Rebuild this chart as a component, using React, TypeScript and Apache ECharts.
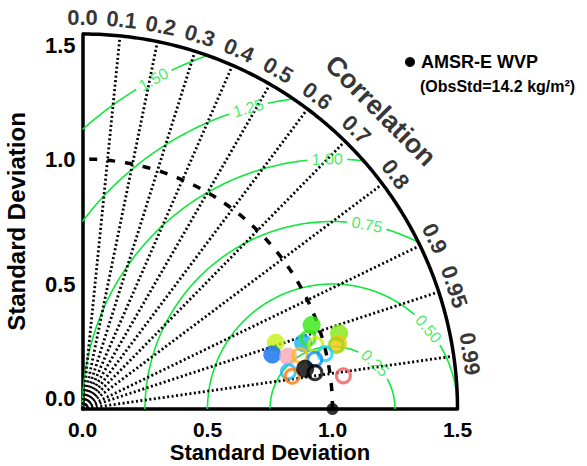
import React, { useEffect, useRef } from 'react';
import * as echarts from 'echarts';

// ---- data ----
const corrTicks = [0.0, 0.1, 0.2, 0.3, 0.4, 0.5, 0.6, 0.7, 0.8, 0.9, 0.95, 0.99];
const corrTickLabels = ['0.0', '0.1', '0.2', '0.3', '0.4', '0.5', '0.6', '0.7', '0.8', '0.9', '0.95', '0.99'];
const rmsLevels = [0.25, 0.5, 0.75, 1.0, 1.25, 1.5];
const rmsLabels = ['0.25', '0.50', '0.75', '1.00', '1.25', '1.50'];
const refStd = 1.0;
const obsName = 'AMSR-E WVP';
const obsStdText = '(ObsStd=14.2 kg/m²)';

const filledColors = ['#33e80f', '#80e80f', '#c8f014', '#0a6ef0', '#f8a8b4', '#12b4f8', '#ffc20e', '#000000'];
const filledStd = [0.976, 1.07, 0.817, 0.79, 0.849, 0.921, 1.055, 0.905];
const filledCorr = [0.939, 0.959, 0.946, 0.961, 0.969, 0.958, 0.969, 0.984];

const hollowColors = ['#33e80f', '#c8f014', '#88e020', '#ffb80e', '#1ed2f5', '#1090f0', '#20b8f8', '#ff7a0a', '#000000', '#f05a5a'];
const hollowStd = [0.946, 0.968, 1.046, 0.896, 0.995, 0.95, 0.837, 0.849, 0.941, 1.052];
const hollowCorr = [0.954, 0.964, 0.97, 0.971, 0.975, 0.978, 0.984, 0.988, 0.988, 0.992];

// ---- layout (not data) ----
const rmsLabelAngles = [47.2, 39.9, 79.4, 91.2, 105.6, 118.5];
const F = '"Liberation Sans", Arial, Helvetica, sans-serif';
const GREEN = '#10e83c';
const PX = 250; // pixels per unit

const toXY = (s: number, c: number) => [s * c, s * Math.sqrt(Math.max(0, 1 - c * c))];
const arcPts = (cx: number, cy: number, r: number, a0: number, a1: number) => {
  const n = Math.max(8, Math.ceil(Math.abs(a1 - a0) * 2));
  const pts: number[][] = [];
  for (let i = 0; i <= n; i++) {
    const a = ((a0 + ((a1 - a0) * i) / n) * Math.PI) / 180;
    pts.push([cx + r * Math.cos(a), cy + r * Math.sin(a)]);
  }
  return pts;
};

export default function App() {
  const ref = useRef<HTMLDivElement>(null);
  useEffect(() => {
    const chart = echarts.init(ref.current!, null, { renderer: 'svg' });
    const series: any[] = [];

    // green RMS arcs
    rmsLevels.forEach((r, i) => {
      const tMin = (Math.acos(Math.min(1, (2.25 - 1 - r * r) / (2 * r))) * 180) / Math.PI;
      const tMax = (Math.acos(Math.max(-1, -1 / r)) * 180) / Math.PI;
      const g = ((20 / (r * PX)) * 180) / Math.PI;
      const phi = rmsLabelAngles[i];
      const segs = [
        [tMin, Math.min(tMax, phi - g)],
        [Math.max(tMin, phi + g), tMax],
      ];
      segs.forEach(([a, b]) => {
        if (b > a)
          series.push({
            type: 'line', data: arcPts(refStd, 0, r, a, b), symbol: 'none', silent: true, clip: false,
            lineStyle: { color: GREEN, width: 1.6 }, z: 2,
          });
      });
    });

    // dashed reference arc
    series.push({
      type: 'line', data: arcPts(0, 0, refStd, 0, 90), symbol: 'none', silent: true, clip: false,
      lineStyle: { color: '#000', width: 3.5, type: [8, 10] }, z: 3,
    });

    // correlation rays
    corrTicks.forEach((c) => {
      if (c === 0) return;
      series.push({
        type: 'line', data: [[0, 0], toXY(1.485, c)], symbol: 'none', silent: true, clip: false,
        lineStyle: { color: '#000', width: 2.8, type: [2, 2.5] }, z: 3,
      });
    });

    // outer arc
    series.push({
      type: 'line', data: arcPts(0, 0, 1.5, 0, 90), symbol: 'none', silent: true, clip: false,
      lineStyle: { color: '#000', width: 3.5 }, z: 4,
    });

    // correlation tick labels
    series.push({
      type: 'scatter', clip: false, silent: true, symbolSize: 0, z: 6,
      itemStyle: { color: 'rgba(0,0,0,0)' },
      label: { show: true, position: 'inside', formatter: '{b}', color: '#000', fontFamily: F, fontWeight: 'bold', fontSize: 22 },
      data: corrTicks.map((c, i) => {
        const th = (Math.acos(c) * 180) / Math.PI;
        return { name: corrTickLabels[i], value: toXY(1.565, c), label: { rotate: th - 90 } };
      }),
    });

    // RMS labels
    series.push({
      type: 'scatter', clip: false, silent: true, symbolSize: 0, z: 6,
      itemStyle: { color: 'rgba(0,0,0,0)' },
      label: { show: true, position: 'inside', formatter: '{b}', color: GREEN, fontFamily: F, fontSize: 16 },
      data: rmsLevels.map((r, i) => {
        const a = (rmsLabelAngles[i] * Math.PI) / 180;
        return { name: rmsLabels[i], value: [refStd + r * Math.cos(a), r * Math.sin(a)], label: { rotate: rmsLabelAngles[i] - 90 } };
      }),
    });

    // "Correlation" title
    series.push({
      type: 'scatter', clip: false, silent: true, symbolSize: 0, z: 6,
      itemStyle: { color: 'rgba(0,0,0,0)' },
      label: { show: true, position: 'inside', formatter: '{b}', color: '#000', fontFamily: F, fontWeight: 'bold', fontSize: 27, rotate: -45 },
      data: [{ name: 'Correlation', value: toXY(1.687, Math.cos((45 * Math.PI) / 180)) }],
    });

    // reference point
    series.push({
      type: 'scatter', clip: false, silent: true, symbolSize: 12, z: 7,
      itemStyle: { color: '#000' }, data: [[refStd, 0]],
    });

    const filled = filledStd.map((s, i) => ({ value: toXY(s, filledCorr[i]), itemStyle: { color: filledColors[i] } }));
    const hollow = hollowStd.map((s, i) => ({
      value: toXY(s, hollowCorr[i]),
      itemStyle: { color: 'rgba(0,0,0,0)', borderColor: hollowColors[i], borderWidth: 3 },
    }));
    series.push({ type: 'scatter', clip: false, silent: true, symbolSize: 18, z: 8, data: filled.slice(0, 7) });
    series.push({ type: 'scatter', clip: false, silent: true, symbolSize: 14, z: 9, data: hollow.slice(0, 8) });
    series.push({ type: 'scatter', clip: false, silent: true, symbolSize: 18, z: 10, data: filled.slice(7) });
    series.push({ type: 'scatter', clip: false, silent: true, symbolSize: 14, z: 11, data: hollow.slice(8) });

    const axisCommon = {
      type: 'value', min: 0, max: 1.5, interval: 0.5,
      axisLine: { show: true, lineStyle: { color: '#000', width: 3.5 } },
      axisTick: { show: false }, splitLine: { show: false },
      nameLocation: 'middle',
      nameMoveOverlap: false,
      name: 'Standard Deviation',
    };

    chart.setOption({
      animation: false,
      backgroundColor: '#fff',
      grid: { left: 82.5, top: 34, width: 375, height: 375, containLabel: false, outerBoundsMode: 'none' },
      xAxis: {
        ...axisCommon, nameGap: 32,
        nameTextStyle: { color: '#000', fontFamily: F, fontWeight: 'bold', fontSize: 22, lineHeight: 22 },
        axisLabel: { color: '#000', fontFamily: F, fontWeight: 'bold', fontSize: 21, lineHeight: 21, margin: 10, formatter: (v: number) => v.toFixed(1) },
      },
      yAxis: {
        ...axisCommon, nameGap: 54,
        nameTextStyle: { color: '#000', fontFamily: F, fontWeight: 'bold', fontSize: 24 },
        axisLabel: {
          color: '#000', fontFamily: F, fontWeight: 'bold', fontSize: 22, margin: 7,
          formatter: (v: number) => v.toFixed(1),
          verticalAlignMinLabel: 'bottom', verticalAlignMaxLabel: 'top',
        },
      },
      series,
      graphic: [
        { type: 'circle', shape: { cx: 410, cy: 62, r: 5 }, style: { fill: '#000' }, z: 20 },
        { type: 'text', x: 421, y: 62, style: { text: obsName, fill: '#000', font: `bold 18px ${F}`, verticalAlign: 'middle' }, z: 20 },
        { type: 'text', x: 420, y: 86, style: { text: obsStdText, fill: '#000', font: `bold 16px ${F}`, verticalAlign: 'middle' }, z: 20 },
      ],
    });
    return () => chart.dispose();
  }, []);
  return <div ref={ref} style={{ position: 'absolute', left: 0, top: 0, width: 587, height: 466 }} />;
}
